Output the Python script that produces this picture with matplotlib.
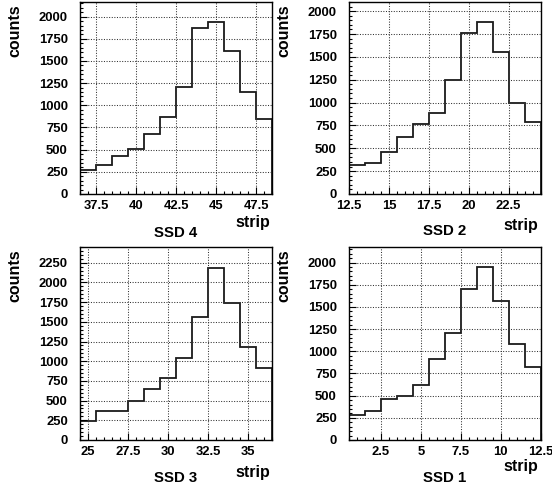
import matplotlib
matplotlib.use("Agg")
import matplotlib.pyplot as plt
import numpy as np
from matplotlib.ticker import MultipleLocator, FormatStrFormatter

plt.rcParams['font.family'] = ['Liberation Sans', 'DejaVu Sans']
plt.rcParams['font.weight'] = 'bold'

# counts per strip
ssd4_strips = list(range(37, 49))
ssd4_counts = [267, 328, 429, 512, 678, 873, 1205, 1871, 1943, 1615, 1145, 847]

ssd2_strips = list(range(13, 25))
ssd2_counts = [314, 336, 464, 628, 767, 887, 1245, 1756, 1884, 1548, 997, 792]

ssd3_strips = list(range(25, 37))
ssd3_counts = [245, 367, 367, 490, 650, 785, 1047, 1557, 2186, 1739, 1186, 912]

ssd1_strips = list(range(1, 13))
ssd1_counts = [282, 327, 459, 500, 617, 910, 1211, 1707, 1944, 1564, 1079, 820]

titles = ["SSD 4", "SSD 2", "SSD 3", "SSD 1"]
W, H = 552, 491

# axes boxes in pixels: left, right, top, bottom
boxes = [(80, 272, 2, 194), (349, 540.5, 2, 194),
         (80, 272, 247, 440), (349, 540.5, 247, 440)]
ytops = [2165, 2100, 2450, 2175]
strip_off = [29, 31, 33, 27]
title_off = [39, 37, 38, 38]

panels = [(ssd4_strips, ssd4_counts), (ssd2_strips, ssd2_counts),
          (ssd3_strips, ssd3_counts), (ssd1_strips, ssd1_counts)]

fig = plt.figure(figsize=(W / 100, H / 100), dpi=100)

for i, ((strips, counts), title) in enumerate(zip(panels, titles)):
    l, r, t, b = boxes[i]
    ax = fig.add_axes([l / W, 1 - b / H, (r - l) / W, (b - t) / H])
    strips = np.array(strips)
    edges = np.append(strips - 0.5, strips[-1] + 0.5)
    ax.stairs(counts, edges, color='#1a1a1a', lw=1.3, baseline=0)
    ax.set_xlim(edges[0], edges[-1])
    ax.set_ylim(0, ytops[i])

    ax.xaxis.set_major_locator(MultipleLocator(2.5))
    ax.xaxis.set_minor_locator(MultipleLocator(0.5))
    ax.xaxis.set_major_formatter(FormatStrFormatter('%g'))
    ax.yaxis.set_major_locator(MultipleLocator(250))
    ax.yaxis.set_minor_locator(MultipleLocator(50))
    ax.tick_params(which='both', direction='in', top=False, right=False,
                   labelsize=9.4, width=0.8)
    ax.tick_params(which='major', length=5)
    ax.tick_params(which='minor', length=2.5)
    ax.tick_params(axis='y', pad=8.8)
    ax.tick_params(axis='x', pad=4)
    for lab in ax.get_xticklabels() + ax.get_yticklabels():
        lab.set_fontweight('bold')
    ax.grid(True, which='major', color='#333333', lw=0.75, linestyle=(0, (1, 1.5)))
    for sp in ax.spines.values():
        sp.set_linewidth(1.0)

    # axis titles placed ROOT-style
    fig.text((l - 65) / W, 1 - (t + 2) / H, "counts", rotation=90,
             ha='center', va='top', fontsize=11.5, fontweight='bold')
    fig.text((r - 2) / W, 1 - (b + strip_off[i]) / H, "strip", ha='right',
             va='center', fontsize=11.5, fontweight='bold')
    fig.text((l + r) / 2 / W, 1 - (b + title_off[i]) / H, title, ha='center',
             va='center', fontsize=10.8, fontweight='bold')

fig.savefig("out.png", dpi=100)
